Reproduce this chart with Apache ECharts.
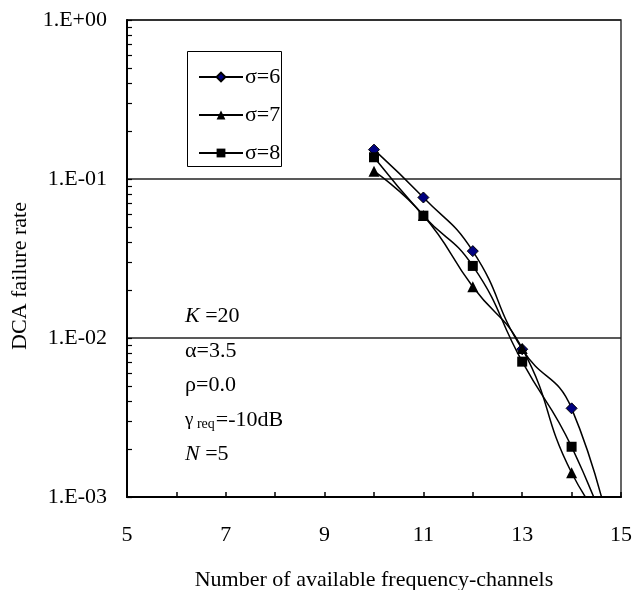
<!DOCTYPE html>
<html>
<head>
<meta charset="utf-8">
<script src="https://cdn.jsdelivr.net/npm/echarts@6/dist/echarts.min.js"></script>
<style>html,body{margin:0;padding:0;background:#fff;}#c{width:632px;height:590px;}</style>
</head>
<body>
<div id="c"></div>
<script>
// Data (x = number of channels, y = DCA failure rate)
const xValues = [10, 11, 12, 13, 14, 15];
const sigma6 = [0.153, 0.0765, 0.0352, 0.0085, 0.00361, 0.00028];
const sigma7 = [0.112, 0.0590, 0.0210, 0.0086, 0.00142, 0.0005];
const sigma8 = [0.137, 0.0588, 0.0284, 0.0071, 0.00207, 0.00035];
const seriesNames = ['σ=6', 'σ=7', 'σ=8'];
const yMajorTicks = [0.001, 0.01, 0.1, 1];
const xLabelValues = [5, 7, 9, 11, 13, 15];

const FONT = 'Liberation Serif, Times New Roman, serif';
function pairs(ys) { return xValues.map((x, i) => [x, ys[i]]); }
const minorVals = [];
[0.001, 0.01, 0.1].forEach(d => { for (let k = 2; k <= 9; k++) minorVals.push(+(d * k).toPrecision(3)); });

function fmtE(v) {
  const e = Math.round(Math.log10(v));
  const s = e < 0 ? '-' : '+';
  const a = Math.abs(e);
  return '1.E' + s + (a < 10 ? '0' + a : a);
}

const chart = echarts.init(document.getElementById('c'), null, {renderer: 'canvas'});
const lineStyle = {color: '#000', width: 1.5};
chart.setOption({
  animation: false,
  backgroundColor: '#fff',
  textStyle: {fontFamily: FONT, color: '#000'},
  grid: {left: 127, right: 11, top: 20, bottom: 93, show: true, borderColor: '#333', borderWidth: 1.5,
    containLabel: false, outerBoundsMode: 'none'},
  legend: {
    orient: 'vertical', left: 193, top: 61, itemWidth: 44, itemHeight: 11, itemGap: 16,
    textStyle: {fontFamily: FONT, fontSize: 22, color: '#000', padding: [0, 0, 0, -3]},
    data: seriesNames
  },
  xAxis: {
    type: 'value', min: 5, max: 15, interval: 1,
    name: 'Number of available frequency-channels', nameLocation: 'middle', nameGap: 72,
    nameTextStyle: {fontFamily: FONT, fontSize: 22, color: '#000'},
    axisLine: {lineStyle: {color: '#000', width: 2}},
    axisTick: {inside: true, length: 5, lineStyle: {color: '#000', width: 1.5}},
    axisLabel: {fontFamily: FONT, fontSize: 22, color: '#000', margin: 27,
      formatter: v => (xLabelValues.indexOf(v) >= 0 ? String(v) : '')},
    splitLine: {show: false}
  },
  yAxis: [{
    type: 'log', logBase: 10, min: 0.001, max: 1, interval: 1,
    axisLine: {show: true, lineStyle: {color: '#000', width: 2}},
    axisTick: {show: true, inside: true, length: 5, lineStyle: {color: '#000', width: 1.2}},
    axisLabel: {fontFamily: FONT, fontSize: 22, color: '#000', margin: 20, formatter: fmtE},
    splitLine: {show: true, lineStyle: {color: '#222', width: 1.5}}
  }, {
    type: 'log', logBase: 10, min: 0.001, max: 1, position: 'left', offset: 0,
    axisLine: {show: false},
    axisTick: {show: true, inside: true, length: 5, customValues: minorVals, lineStyle: {color: '#000', width: 1.2}},
    axisLabel: {show: false},
    splitLine: {show: false}
  }],
  graphic: [
    {type: 'rect', left: 185, top: 49, shape: {width: 94, height: 115}, style: {fill: null, stroke: '#000', lineWidth: 1}, z: 100},
    {type: 'text', x: 20, y: 276, rotation: Math.PI / 2,
      style: {text: 'DCA failure rate', font: '22px ' + FONT, fill: '#000', align: 'center', verticalAlign: 'middle'}},
    {type: 'text', x: 185, y: 316, style: {text: '{i|K} =20', font: '22px ' + FONT, fill: '#000', verticalAlign: 'middle',
      rich: {i: {fontStyle: 'italic', fontSize: 22, fontFamily: 'Liberation Serif'}}}},
    {type: 'text', x: 185, y: 351, style: {text: 'α=3.5', font: '22px ' + FONT, fill: '#000', verticalAlign: 'middle'}},
    {type: 'text', x: 185, y: 385, style: {text: 'ρ=0.0', font: '22px ' + FONT, fill: '#000', verticalAlign: 'middle'}},
    {type: 'text', x: 185, y: 420, style: {text: '{g|γ}{s| req}=-10dB', font: '22px ' + FONT, fill: '#000', verticalAlign: 'middle',
      rich: {g: {fontSize: 19, fontFamily: 'Liberation Serif'}, s: {fontSize: 14, fontFamily: 'Liberation Serif', verticalAlign: 'bottom', padding: [6, 1, 0, 0]}}}},
    {type: 'text', x: 185, y: 454, style: {text: '{i|N} =5', font: '22px ' + FONT, fill: '#000', verticalAlign: 'middle',
      rich: {i: {fontStyle: 'italic', fontSize: 22, fontFamily: 'Liberation Serif'}}}}
  ],
  series: [
    {name: seriesNames[0], type: 'line', data: pairs(sigma6), smooth: true, symbol: 'diamond', symbolSize: 11,
      itemStyle: {color: '#000080', borderColor: '#000', borderWidth: 1}, lineStyle: lineStyle, clip: true, z: 3},
    {name: seriesNames[1], type: 'line', data: pairs(sigma7), smooth: true, symbol: 'triangle', symbolSize: 11,
      itemStyle: {color: '#000'}, lineStyle: lineStyle, clip: true},
    {name: seriesNames[2], type: 'line', data: pairs(sigma8), smooth: true, symbol: 'rect', symbolSize: 10,
      itemStyle: {color: '#000'}, lineStyle: lineStyle, clip: true}
  ]
});
</script>
</body>
</html>
